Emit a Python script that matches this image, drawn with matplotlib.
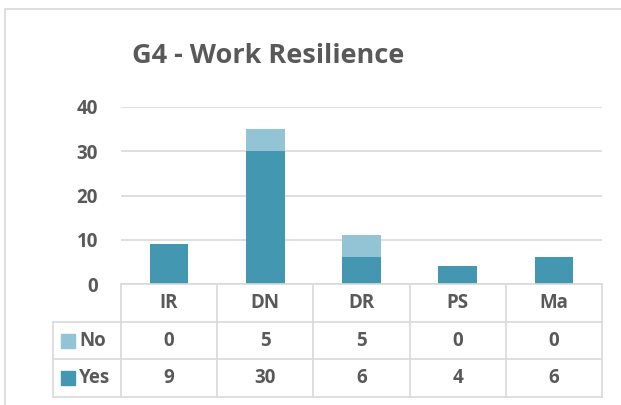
import matplotlib
matplotlib.use("Agg")
import matplotlib.pyplot as plt
from matplotlib.patches import Rectangle

categories = ["IR", "DN", "DR", "PS", "Ma"]
yes_vals = [9, 30, 6, 4, 6]
no_vals = [0, 5, 5, 0, 0]
series_names = ["No", "Yes"]
yticks = [0, 10, 20, 30, 40]

C_YES = "#4397B0"
C_NO = "#93C4D5"
TXT = "#595959"
GRID = "#D9D9D9"
FONT = "Open Sans"
WEIGHT = "bold"
FS = 13.5

W, H = 621, 405
fig = plt.figure(figsize=(W / 100, H / 100), dpi=100)

def fx(px):
    return px / W

def fy(py):
    return 1 - py / H

# outer frame
frame = Rectangle((fx(5), fy(430)), fx(700), 421 / H, transform=fig.transFigure,
                  fill=False, edgecolor=GRID, linewidth=1.2)
fig.patches.append(frame)

# bar axes
L, R, T, B = 121, 602, 107, 284
ax = fig.add_axes([fx(L), fy(B), fx(R - L), (B - T) / H])
x = list(range(len(categories)))
ax.bar(x, yes_vals, width=0.4, color=C_YES, zorder=3)
ax.bar(x, no_vals, width=0.4, bottom=yes_vals, color=C_NO, zorder=3)
ax.set_xlim(-0.5, len(categories) - 0.5)
ax.set_ylim(0, 40)
ax.set_yticks(yticks)
ax.set_yticklabels([str(t) for t in yticks], fontsize=FS, fontweight=WEIGHT,
                   color=TXT, fontname=FONT)
ax.tick_params(axis="y", length=0, pad=16.5)
ax.tick_params(axis="x", length=0, labelbottom=False)
ax.grid(axis="y", color=GRID, linewidth=1.2, zorder=0)
for s in ax.spines.values():
    s.set_visible(False)
ax.patch.set_alpha(0)

# table axes
TL, TB = 53, 397
ncat = len(categories)
unit_px = (R - L) / ncat
left_unit = -0.5 - (L - TL) / unit_px
tax = fig.add_axes([fx(TL), fy(TB), fx(R - TL), (TB - B) / H])
tax.set_xlim(left_unit, ncat - 0.5)
tax.set_ylim(3, 0)
tax.axis("off")
lw = 1.2
tax.plot([-0.5, ncat - 0.5], [0, 0], color=GRID, lw=lw, clip_on=False)
for r in (1, 2, 3):
    tax.plot([left_unit, ncat - 0.5], [r, r], color=GRID, lw=lw, clip_on=False)
tax.plot([left_unit, left_unit], [1, 3], color=GRID, lw=lw, clip_on=False)
for i in range(ncat + 1):
    tax.plot([i - 0.5, i - 0.5], [0, 3], color=GRID, lw=lw, clip_on=False)

tfont = dict(fontsize=FS, fontweight=WEIGHT, color=TXT, fontname=FONT,
             ha="center", va="center")
for i, c in enumerate(categories):
    tax.text(i, 0.5, c, **tfont)
rows = [(series_names[0], no_vals, C_NO), (series_names[1], yes_vals, C_YES)]
row_px = (TB - B) / 3
for r, (name, vals, col) in enumerate(rows, start=1):
    sqw = 14 / unit_px
    sqh = 14 / row_px
    x0 = left_unit + 8 / unit_px
    tax.add_patch(Rectangle((x0, r + 0.5 - sqh / 2), sqw, sqh, color=col, clip_on=False))
    tax.text(x0 + sqw + 4 / unit_px, r + 0.5, name, fontsize=FS, fontweight=WEIGHT,
             color=TXT, fontname=FONT, ha="left", va="center")
    for i, v in enumerate(vals):
        tax.text(i, r + 0.5, str(v), **tfont)

fig.text(fx(268), fy(56), "G4 - Work Resilience", fontsize=19.5, fontweight=WEIGHT,
         color=TXT, fontname=FONT, ha="center", va="center")

fig.savefig("out.png", dpi=100, facecolor="white")
